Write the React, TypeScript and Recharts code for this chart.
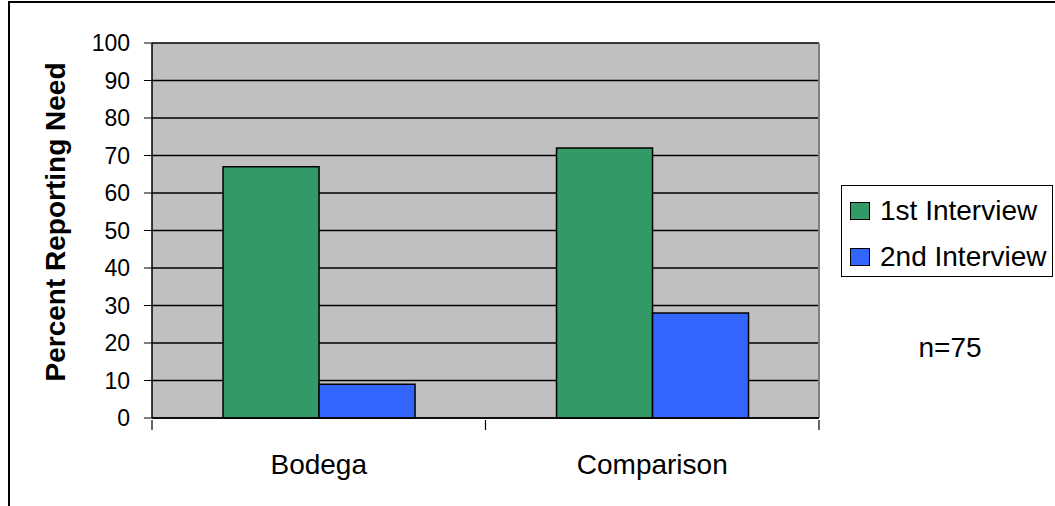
import React from "react";
import { BarChart, Bar, XAxis, YAxis, CartesianGrid, Legend } from "recharts";

const categories = ["Bodega", "Comparison"];
const firstInterview = [67, 72];
const secondInterview = [9, 28];
const yTicks = [0, 10, 20, 30, 40, 50, 60, 70, 80, 90, 100];
const seriesNames = ["1st Interview", "2nd Interview"];
const sampleNote = "n=75";

const GREEN = "#339966";
const BLUE = "#3366FF";
const FONT = "Arial, 'Liberation Sans', sans-serif";

const data = categories.map((name, i) => ({
  name,
  first: firstInterview[i],
  second: secondInterview[i],
}));

// category label in the middle, tick marks on the category boundaries
const CategoryTick = (props: any) => {
  const { x, y, payload, index, width, visibleTicksCount } = props;
  const band = width / visibleTicksCount;
  const left = x - band / 2;
  const right = x + band / 2;
  return (
    <g>
      <line x1={left} x2={left} y1={y} y2={y + 10} stroke="#000" strokeWidth={1.2} />
      {index === visibleTicksCount - 1 && (
        <line x1={right} x2={right} y1={y} y2={y + 10} stroke="#000" strokeWidth={1.2} />
      )}
      <text x={x} y={y + 34} dy="0.71em" textAnchor="middle" fill="#000" fontSize={28} fontFamily={FONT}>
        {payload.value}
      </text>
    </g>
  );
};

const LegendBox = () => {
  const colors = [GREEN, BLUE];
  return (
    <div
      style={{
        width: 210,
        height: 90,
        border: "1px solid #000",
        background: "#fff",
        position: "relative",
        fontFamily: FONT,
        fontSize: 28,
        color: "#000",
      }}
    >
      {seriesNames.map((s, i) => (
        <div
          key={s}
          style={{
            position: "absolute",
            left: 8,
            top: 9 + i * 46,
            height: 32,
            display: "flex",
            alignItems: "center",
            whiteSpace: "nowrap",
          }}
        >
          <span
            style={{
              display: "inline-block",
              width: 18,
              height: 16,
              background: colors[i],
              border: "1px solid #000",
              marginRight: 10,
            }}
          />
          {s}
        </div>
      ))}
    </div>
  );
};

export default function App() {
  return (
    <div style={{ position: "absolute", left: 0, top: 0, width: 1055, height: 506, background: "#fff" }}>
      <div
        style={{
          position: "absolute",
          left: 8,
          top: 1,
          width: 1047,
          height: 505,
          borderTop: "2px solid #000",
          borderLeft: "2px solid #000",
          boxSizing: "border-box",
        }}
      />
      <div style={{ position: "absolute", left: 0, top: 0 }}>
        <BarChart
          width={1055}
          height={506}
          data={data}
          margin={{ top: 43, right: 236, bottom: 28, left: 0 }}
          barCategoryGap="21.3%"
          barGap={0}
        >
          <CartesianGrid fill="#C0C0C0" stroke="#000" vertical={false} strokeWidth={1.5} />
          <CartesianGrid horizontal={false} verticalPoints={[819]} stroke="#808080" strokeWidth={2} />
          <XAxis
            dataKey="name"
            height={60}
            tickLine={false}
            tickSize={0}
            interval={0}
            axisLine={{ stroke: "#000", strokeWidth: 1.5 }}
            tick={<CategoryTick />}
          />
          <YAxis
            width={152}
            domain={[0, 100]}
            ticks={yTicks}
            interval={0}
            tickSize={8}
            tickMargin={14}
            stroke="#000"
            axisLine={{ stroke: "#000", strokeWidth: 1.5 }}
            tick={{ fill: "#000", fontSize: 23, fontFamily: FONT }}
            label={() => (
              <text
                transform="translate(55,222) rotate(-90)"
                textAnchor="middle"
                dominantBaseline="central"
                fontFamily={FONT}
                fontWeight="bold"
                fontSize={28}
                fill="#000"
              >
                Percent Reporting Need
              </text>
            )}
          />
          <Legend
            align="center"
            verticalAlign="middle"
            layout="horizontal"
            wrapperStyle={{ position: "absolute", left: 841, top: 185, width: 212, height: 92 }}
            content={() => <LegendBox />}
          />
          <Bar dataKey="first" name={seriesNames[0]} fill={GREEN} stroke="#000" strokeWidth={1.5} isAnimationActive={false} />
          <Bar dataKey="second" name={seriesNames[1]} fill={BLUE} stroke="#000" strokeWidth={1.5} isAnimationActive={false} />
        </BarChart>
      </div>
      <div
        style={{
          position: "absolute",
          left: 900,
          top: 332,
          width: 100,
          textAlign: "center",
          fontFamily: FONT,
          fontSize: 28,
          lineHeight: "32px",
          color: "#000",
        }}
      >
        {sampleNote}
      </div>
    </div>
  );
}
